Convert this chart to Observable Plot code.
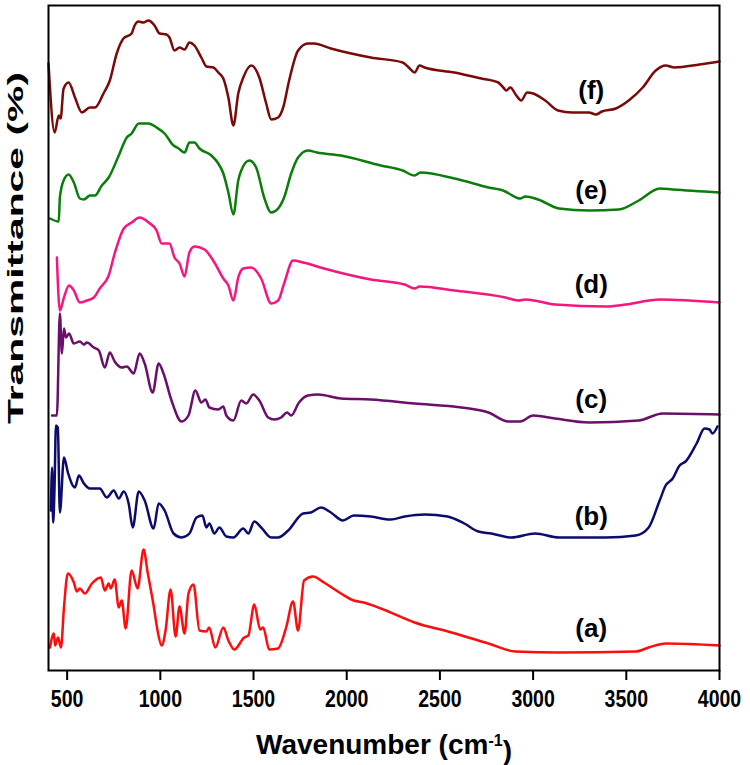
<!DOCTYPE html>
<html><head><meta charset="utf-8">
<script src="https://cdn.jsdelivr.net/npm/d3@7"></script>
<script src="https://cdn.jsdelivr.net/npm/@observablehq/plot@0.6"></script>
<style>
body{margin:0;background:#fff;}
#chart svg{display:block;}
</style></head><body><div id="chart"></div>
<script>
const seriesNames = ["(a)","(b)","(c)","(d)","(e)","(f)"];
const seriesColors = ["#ff0d0d","#0c0c6e","#6a0f6a","#f5167e","#0a7d0a","#7a0a0a"];
const xTicks = [500,1000,1500,2000,2500,3000,3500,4000];

const aWave = [408,429,435,451,467,483,504,536,552,568,595,633,681,702,723,734,755,777,793,814,846,878,910,932,964,985,1007,1028,1055,1082,1103,1130,1151,1178,1210,1247,1262,1295,1338,1365,1397,1450,1472,1504,1536,1552,1584,1632,1675,1712,1739,1771,1819,1878,1969,2038,2092,2183,2364,2562,2760,2904,3139,3551,3620,3711,4000];
const aTrans = [8,22,10,18,8,48,82,73,64,67,62,72,78,65,72,67,76,48,55,27,85,67,106,83,50,25,10,25,66,19,49,22,62,71,25,24,28,8,28,15,6,18,20,51,26,28,6,7,28,54,25,75,79,73,62,55,53,47,33,23,12,4,3,4,8,12,10];

const bWave = [413,419,425,432,440,450,461,483,504,542,563,590,622,675,713,750,777,804,830,852,884,916,964,991,1023,1071,1114,1156,1194,1226,1247,1263,1290,1317,1354,1392,1445,1472,1504,1541,1595,1632,1686,1766,1808,1862,1915,1979,2038,2129,2236,2311,2418,2541,2631,2706,2776,2883,3011,3139,3390,3551,3620,3679,3711,3749,3786,3818,3877,3920,3946,3962,3989];
const bTrans = [145,188,133,165,230,228,143,198,183,168,180,172,167,167,158,165,157,164,152,128,164,155,127,152,145,122,118,122,138,140,128,132,122,128,119,118,127,122,134,128,118,118,125,142,143,148,143,135,140,139,136,139,141,139,132,124,122,118,122,118,118,120,128,155,170,177,190,194,212,227,226,222,229];

const cWave = [419,445,461,472,483,494,510,536,568,590,606,643,670,702,729,755,793,820,857,889,916,959,991,1017,1060,1114,1151,1188,1220,1242,1263,1311,1338,1354,1392,1434,1461,1498,1531,1579,1611,1648,1680,1702,1744,1792,1846,1969,2129,2364,2615,2760,2867,2931,3000,3118,3300,3567,3695,4000];
const cTrans = [240,240,342,302,327,318,322,312,314,311,313,308,305,288,303,294,288,289,282,302,292,263,292,282,255,234,240,265,253,256,248,246,249,240,235,255,252,261,255,238,236,238,243,240,253,260,261,257,256,252,248,243,234,234,240,237,233,235,242,241];

const dWave = [445,461,483,510,536,568,606,643,675,723,755,804,846,889,937,980,1007,1049,1076,1103,1130,1156,1183,1237,1290,1338,1365,1392,1418,1445,1488,1541,1595,1632,1664,1712,1766,1878,2129,2311,2364,2391,2578,2851,2920,2960,3118,3390,3497,3679,4000];
const dTrans = [398,345,358,370,365,353,355,358,367,380,402,427,433,438,433,425,412,412,398,392,379,403,409,406,393,377,370,355,378,387,388,377,352,355,372,395,393,387,376,371,367,369,365,358,355,356,351,349,351,356,353];

const eWave = [408,455,461,481,508,536,568,590,622,649,686,723,777,820,846,884,937,980,1023,1071,1098,1130,1156,1183,1210,1274,1311,1338,1365,1392,1418,1434,1477,1514,1557,1595,1632,1664,1702,1739,1792,1840,1969,2183,2300,2364,2396,2578,2760,2851,2870,2931,2958,3027,3139,3300,3460,3567,3679,3749,4000];
const eTrans = [437,434,458,475,481,473,457,456,460,460,470,478,500,518,522,532,532,528,522,510,507,503,513,513,507,500,492,482,463,441,475,485,495,488,458,443,447,458,482,498,505,503,500,490,485,480,483,477,468,464,462,457,459,456,447,445,446,455,467,466,463];

const fWave = [400,433,455,465,481,508,542,579,622,649,695,729,766,802,846,862,882,909,936,969,996,1033,1049,1076,1103,1130,1156,1183,1220,1247,1285,1311,1338,1365,1392,1418,1445,1488,1531,1568,1595,1632,1659,1691,1739,1792,1824,1915,2129,2300,2338,2364,2391,2418,2578,2722,2813,2840,2856,2878,2910,2936,2968,3000,3065,3134,3209,3300,3337,3369,3444,3513,3588,3658,3711,3759,3893,4000];
const fTrans = [592,523,540,537,567,573,558,543,548,548,562,575,602,617,622,630,634,633,635,630,622,621,618,605,608,606,613,610,598,589,588,583,577,558,530,562,578,590,578,552,536,538,548,575,605,612,612,607,598,593,587,583,590,588,583,577,573,568,565,568,560,555,563,562,555,545,543,543,541,544,547,555,568,585,590,588,591,594];

const labelWave = [3312,3312,3312,3312,3312,3312];
const labelTrans = [27,139,256,371,465,565];

const waves = [aWave,bWave,cWave,dWave,eWave,fWave];
const trans = [aTrans,bTrans,cTrans,dTrans,eTrans,fTrans];
const rows = [];
seriesNames.forEach((s,i)=>waves[i].forEach((w,j)=>rows.push({s, w, t: trans[i][j]})));
const labelRows = seriesNames.map((s,i)=>({s, w: labelWave[i], t: labelTrans[i]}));

const font = "Liberation Sans, Arial, Helvetica, sans-serif";
const plot = Plot.plot({
  width: 750, height: 765,
  marginLeft: 48, marginRight: 31, marginTop: 5, marginBottom: 95,
  x: {domain: [400, 4000]},
  y: {domain: [-15, 650], axis: null},
  color: {domain: seriesNames, range: seriesColors},
  style: {fontFamily: font, color: "black", background: "white", overflow: "visible"},
  marks: [
    Plot.line(rows, {x: "w", y: "t", z: "s", stroke: "s", strokeWidth: 2.5, curve: "monotone-x"}),
    Plot.text(labelRows, {x: "w", y: "t", text: "s", fontSize: 26, fontWeight: "bold", fill: "black"}),
    Plot.frame({stroke: "black", strokeWidth: 2}),
    Plot.axisX({ticks: xTicks, tickSize: 10, tickPadding: 10, fontSize: 23.5, fontWeight: "bold", label: null, tickFormat: d => String(d), strokeWidth: 2}),
    Plot.text(["Wavenumber (cm-1)"], {frameAnchor: "bottom", textAnchor: "middle", lineAnchor: "middle", dy: 75, fontSize: 28, fontWeight: "bold", fill: "black"}),
    Plot.text(["Transmittance (%)"], {frameAnchor: "left", textAnchor: "middle", lineAnchor: "middle", rotate: -90, dx: -33, dy: -90, fontSize: 22, fontWeight: "bold", fill: "black"})
  ]
});
document.getElementById("chart").appendChild(plot);
const svg = d3.select(plot);
svg.selectAll("text").filter(function(){ return this.textContent === "Wavenumber (cm-1)"; })
  .each(function(){
    const t = d3.select(this);
    t.text(null);
    t.append("tspan").text("Wavenumber (cm");
    t.append("tspan").attr("font-size", 16).attr("dy", "-0.5em").text("-1");
    t.append("tspan").attr("dy", "0.5em").text(")");
  });
svg.selectAll("text").filter(function(){ return this.textContent === "Transmittance (%)"; })
  .attr("textLength", 352).attr("lengthAdjust", "spacingAndGlyphs");
const tickStrings = new Set(xTicks.map(String));
svg.selectAll("text").filter(function(){ return tickStrings.has(this.textContent); })
  .each(function(){
    const len = this.getComputedTextLength();
    if (len > 0) {
      this.setAttribute("textLength", (len * 19.5 / 23.5).toFixed(2));
      this.setAttribute("lengthAdjust", "spacingAndGlyphs");
    }
  });
</script></body></html>
